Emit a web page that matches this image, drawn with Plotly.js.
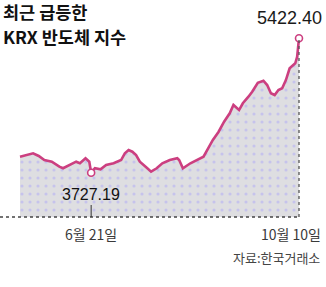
<!DOCTYPE html>
<html>
<head>
<meta charset="utf-8">
<script src="https://cdn.plot.ly/plotly-3.0.1.min.js"></script>
<style>html,body{margin:0;padding:0;background:#fff;}#chart{width:326px;height:287px;}</style>
</head>
<body>
<div id="chart"></div>
<script>
const dates = ["2025-05-14","2025-05-21","2025-05-24","2025-05-27","2025-05-31","2025-06-04","2025-06-06","2025-06-11","2025-06-13","2025-06-15",
"2025-06-18","2025-06-20","2025-06-21","2025-06-23","2025-06-26","2025-06-29","2025-07-03","2025-07-07","2025-07-09","2025-07-11",
"2025-07-13","2025-07-15","2025-07-17","2025-07-21","2025-07-23","2025-07-26","2025-07-29","2025-08-02","2025-08-06","2025-08-07",
"2025-08-09","2025-08-13","2025-08-16","2025-08-20","2025-08-23","2025-08-25","2025-08-28","2025-08-31","2025-09-03","2025-09-05",
"2025-09-08","2025-09-10","2025-09-13","2025-09-15","2025-09-18","2025-09-21","2025-09-23","2025-09-25","2025-09-27","2025-09-29",
"2025-10-01","2025-10-03","2025-10-05","2025-10-08","2025-10-09","2025-10-10"];
const values = [3929,3972,3938,3887,3866,3803,3783,3846,3866,3846,
3909,3866,3727.19,3783,3770,3824,3846,3887,3972,4014,
3992,3950,3866,3783,3740,3783,3846,3887,3909,3887,
3783,3846,3879,3929,4055,4140,4241,4371,4476,4581,
4518,4603,4686,4749,4862,4888,4833,4729,4707,4770,
4792,4896,5044,5107,5187,5422.40];
const tickDates = ["2025-06-21","2025-10-10"];
const tickLabels = ["6월 21일","10월 10일"];
const titleLines = ["최근 급등한","KRX 반도체 지수"];
const sourceText = "자료:한국거래소";

const LINE = '#cc3f80';
const yMin = 3168.5, yMax = 5527.1;
const minI = values.indexOf(Math.min(...values));
const maxI = values.indexOf(Math.max(...values));
const lastI = values.length - 1;

// pixel helpers for layout placement (plot area: x 18..301, y 30..217)
const PL = 18, PW = 283, PT = 30, PH = 187;
const px = X => (X - PL) / PW;
const py = Y => (PT + PH - Y) / PH;

const traces = [
  {
    x: dates, y: values, type: 'scatter', mode: 'lines',
    line: {color: LINE, width: 2.6},
    fill: 'tozeroy',
    fillcolor: '#dedee2',
    fillpattern: {shape: '.', bgcolor: '#dedee1', fgcolor: '#c6c3ec', size: 8, solidity: 0.12},
    hoverinfo: 'skip'
  },
  {
    x: [dates[minI], dates[maxI]], y: [values[minI], values[maxI]],
    type: 'scatter', mode: 'markers', cliponaxis: false,
    marker: {symbol: 'circle', size: 7, color: '#ffffff', line: {color: LINE, width: 1.6}},
    hoverinfo: 'skip'
  }
];

const annotations = [
  {xref: 'paper', yref: 'paper', x: px(1), y: py(11), xanchor: 'left', yanchor: 'middle', showarrow: false,
   text: '<b>' + titleLines[0] + '</b>', font: {family: 'Noto Sans CJK KR', size: 17.5, color: '#111'}},
  {xref: 'paper', yref: 'paper', x: px(1), y: py(36.5), xanchor: 'left', yanchor: 'middle', showarrow: false,
   text: '<b>' + titleLines[1] + '</b>', font: {family: 'Noto Sans CJK KR', size: 17.5, color: '#111'}},
  {xref: 'x', yref: 'y', x: dates[maxI], y: values[maxI], xanchor: 'center', yanchor: 'middle', xshift: -10, yshift: 20,
   showarrow: false, text: values[maxI].toFixed(2),
   font: {family: 'Liberation Sans Narrow, Liberation Sans, Arial', size: 18, color: '#1a1a1a'}},
  {xref: 'x', yref: 'y', x: dates[minI], y: values[minI], xanchor: 'center', yanchor: 'middle', yshift: -22,
   showarrow: false, text: values[minI].toFixed(2),
   font: {family: 'Liberation Sans Narrow, Liberation Sans, Arial', size: 16, color: '#111'}},
  {xref: 'x', yref: 'paper', x: tickDates[0], y: 0, xanchor: 'center', yanchor: 'middle', yshift: -17,
   showarrow: false, text: tickLabels[0], font: {family: 'Noto Sans CJK KR', size: 14, color: '#3a3a3a'}},
  {xref: 'x', yref: 'paper', x: tickDates[1], y: 0, xanchor: 'center', yanchor: 'middle', yshift: -17, xshift: -8,
   showarrow: false, text: tickLabels[1], font: {family: 'Noto Sans CJK KR', size: 14, color: '#3a3a3a'}},
  {xref: 'paper', yref: 'paper', x: px(322), y: py(257.5), xanchor: 'right', yanchor: 'middle',
   showarrow: false, text: sourceText, font: {family: 'Noto Sans CJK KR', size: 13, color: '#444'}}
];

const shapes = [
  {type: 'line', xref: 'paper', yref: 'paper', x0: px(0), x1: px(299), y0: 0, y1: 0,
   line: {color: '#444', width: 1.3, dash: 'dot'}},
  {type: 'line', xref: 'x', yref: 'y', x0: dates[lastI], x1: dates[lastI], y0: yMin, y1: values[lastI],
   line: {color: '#555', width: 1.3, dash: 'dot'}},
  {type: 'line', xref: 'x', yref: 'paper', x0: tickDates[0], x1: tickDates[0], y0: 0, y1: py(205),
   line: {color: '#333', width: 1}}
];

const layout = {
  width: 326, height: 287,
  margin: {l: PL, r: 326 - PL - PW, t: PT, b: 287 - PT - PH, pad: 0},
  paper_bgcolor: '#ffffff', plot_bgcolor: 'rgba(0,0,0,0)',
  showlegend: false,
  xaxis: {type: 'date', range: ['2025-05-12 22:24', '2025-10-11 01:36'], visible: false, fixedrange: true},
  yaxis: {range: [yMin, yMax], visible: false, fixedrange: true},
  annotations: annotations,
  shapes: shapes
};

Plotly.newPlot('chart', traces, layout, {staticPlot: true, displayModeBar: false});
</script>
</body>
</html>
